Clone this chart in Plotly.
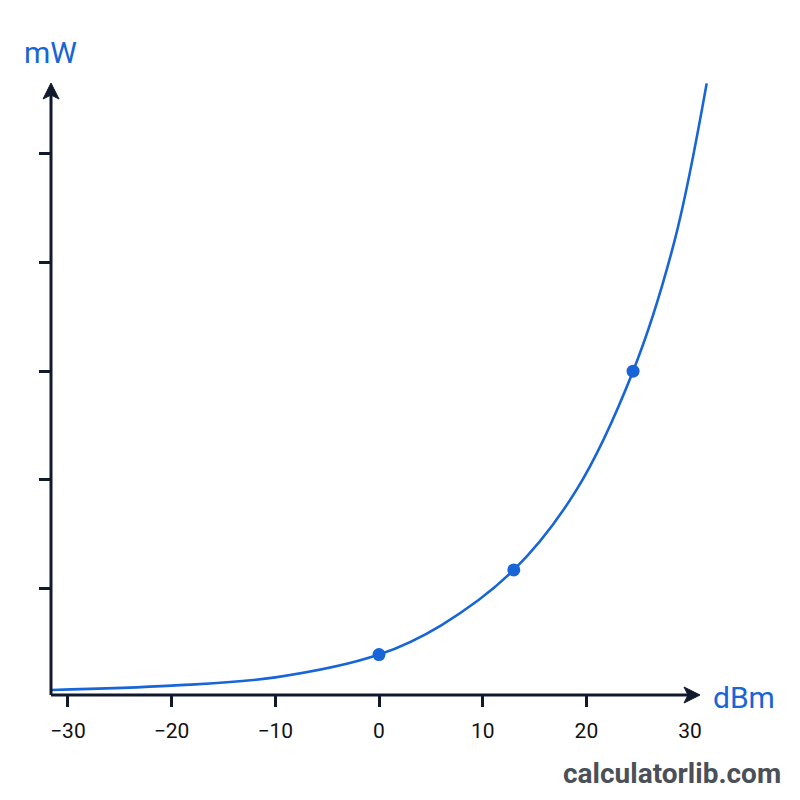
import plotly.graph_objects as go

# Curve (dBm -> mW, stylised units)
curve_dbm = [-31.6, -20, -10, 0, 6, 13, 19, 24.5, 28.5, 31.6]
curve_mw = [0.064, 0.104, 0.18, 0.39, 0.66, 1.17, 1.9, 3.0, 4.2, 5.65]

# Highlighted points
point_dbm = [0, 13, 24.5]
point_mw = [0.39, 1.17, 3.0]

x_tick_vals = [-30, -20, -10, 0, 10, 20, 30]
x_tick_text = ["\u221230", "\u221220", "\u221210", "0", "10", "20", "30"]
x_tick_marks = [-30, -20, -10, 0, 10, 20]
y_tick_marks = [1, 2, 3, 4, 5]

BLUE = "#1765d6"
AXIS = "#101a2c"
FONT = "Roboto"

fig = go.Figure()
fig.add_trace(go.Scatter(x=curve_dbm, y=curve_mw, mode="lines",
                         line=dict(color=BLUE, width=2.6, shape="spline", smoothing=1.0),
                         hoverinfo="skip", showlegend=False))
fig.add_trace(go.Scatter(x=point_dbm, y=point_mw, mode="markers",
                         marker=dict(color=BLUE, size=13),
                         showlegend=False))
# invisible trace on overlay axis for tick marks
fig.add_trace(go.Scatter(x=[0], y=[1], xaxis="x2", mode="markers",
                         marker=dict(opacity=0), hoverinfo="skip", showlegend=False))

XR = [-31.63, 31.92]
YR = [0.018, 5.681]

fig.update_layout(
    width=800, height=800,
    margin=dict(l=51, r=90, t=80, b=105),
    paper_bgcolor="white", plot_bgcolor="white",
    font=dict(family=FONT, color="#111111"),
    xaxis=dict(range=XR, tickvals=x_tick_vals, ticktext=x_tick_text,
               ticks="outside", ticklen=17, tickcolor="rgba(0,0,0,0)",
               showgrid=False, zeroline=False, showline=False,
               tickfont=dict(size=21, color="#111111", family=FONT)),
    xaxis2=dict(range=XR, overlaying="x", side="bottom", tickvals=x_tick_marks,
                ticks="outside", ticklen=11, tickwidth=2.5, tickcolor=AXIS,
                showticklabels=False, showgrid=False, zeroline=False, showline=False),
    yaxis=dict(range=YR, tickvals=y_tick_marks, ticks="outside", ticklen=11,
               tickwidth=2.5, tickcolor=AXIS, showticklabels=False,
               showgrid=False, zeroline=False, showline=False),
)

x_tip = (700 - 51) / 659.0
y_tip = (695 - 83) / 615.0

shapes = [
    dict(type="line", xref="paper", yref="paper", x0=0, x1=x_tip - 0.01, y0=0, y1=0,
         line=dict(color=AXIS, width=3)),
    dict(type="line", xref="paper", yref="paper", x0=0, x1=0, y0=0, y1=y_tip - 0.012,
         line=dict(color=AXIS, width=3)),
    dict(type="path", xref="paper", yref="paper", xsizemode="pixel", ysizemode="pixel",
         xanchor=x_tip, yanchor=0, path="M 0,0 L -16,8 L -12,0 L -16,-8 Z",
         fillcolor=AXIS, line=dict(color=AXIS, width=1)),
    dict(type="path", xref="paper", yref="paper", xsizemode="pixel", ysizemode="pixel",
         xanchor=0, yanchor=y_tip, path="M 0,0 L -8,-16 L 0,-12 L 8,-16 Z",
         fillcolor=AXIS, line=dict(color=AXIS, width=1)),
]
fig.update_layout(shapes=shapes)

fig.add_annotation(text="mW", xref="paper", yref="paper", x=(50 - 51) / 659.0, y=(695 - 53) / 615.0,
                   showarrow=False, font=dict(size=30, color=BLUE, family=FONT),
                   xanchor="center", yanchor="middle")
fig.add_annotation(text="dBm", xref="paper", yref="paper", x=(744 - 51) / 659.0, y=(695 - 697) / 615.0,
                   showarrow=False, font=dict(size=30, color=BLUE, family=FONT),
                   xanchor="center", yanchor="middle")
fig.add_annotation(text="<b>calculatorlib.com</b>", xref="paper", yref="paper",
                   x=(783 - 51) / 659.0, y=(695 - 773) / 615.0,
                   showarrow=False, font=dict(size=28, color="#4b5058", family=FONT),
                   xanchor="right", yanchor="middle")

fig.write_html("out.html")
